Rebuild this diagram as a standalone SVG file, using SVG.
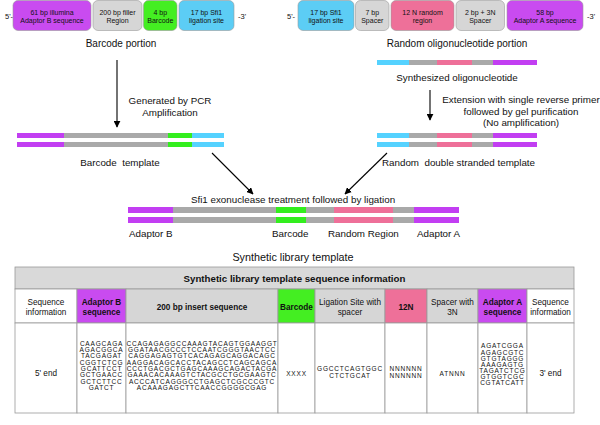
<svg xmlns="http://www.w3.org/2000/svg" width="600" height="425" viewBox="0 0 600 425">
<style>
text{font-family:"Liberation Sans",Arial,sans-serif;fill:#111}
.bx{font-size:7px;text-anchor:middle}
.lb{font-size:9.8px}
.lc{font-size:9.8px;text-anchor:middle}
.tt{font-size:10px;text-anchor:middle}
.th{font-size:8.2px;text-anchor:middle}
.thb{font-size:8.2px;text-anchor:middle;font-weight:bold}
.sq{font-size:6.5px;text-anchor:middle;letter-spacing:0.8px}
.pu{fill:#C94BF0}.gr{fill:#D6D6D6}.gn{fill:#44EE22}.cy{fill:#5CCDF5}.pk{fill:#EE7099}
.box{stroke:#9a9a9a;stroke-width:0.6}
.bpu{fill:#C23EF2}.bgy{fill:#A9A9A9}.bgn{fill:#33EE1E}.bcy{fill:#55D2FF}.bpk{fill:#EE7099}
.conn line{stroke:#000;stroke-width:1.1}
.cell{stroke:#9a9a9a;stroke-width:0.8}
</style>
<defs>
<marker id="ah" viewBox="0 0 10 10" refX="9" refY="5" markerWidth="7" markerHeight="7" markerUnits="userSpaceOnUse" orient="auto">
<path d="M0,0 L10,5 L0,10 z" fill="#000"/>
</marker>
</defs>

<g id="barcode-portion">
<text x="5" y="18.5" font-size="7.5">5'-</text>
<rect class="pu box" x="13" y="0.5" width="78" height="30" rx="5"/>
<text class="bx" x="52" y="14.5">61 bp illumina</text>
<text class="bx" x="52" y="23">Adaptor B sequence</text>
<rect class="gr box" x="93" y="0.5" width="49" height="30" rx="5"/>
<text class="bx" x="117.5" y="14.5">200 bp filler</text>
<text class="bx" x="117.5" y="23">Region</text>
<rect class="gn box" x="143.5" y="0.5" width="33.5" height="30" rx="5"/>
<text class="bx" x="160.3" y="14.5">4 bp</text>
<text class="bx" x="160.3" y="23">Barcode</text>
<rect class="cy box" x="179" y="0.5" width="55" height="30" rx="5"/>
<text class="bx" x="206.5" y="14.5">17 bp Sfi1</text>
<text class="bx" x="206.5" y="23">ligation site</text>
<text x="238" y="18.5" font-size="7.5">-3'</text>
<text class="tt" x="121" y="46.5">Barcode portion</text>
</g>

<g id="random-portion">
<text x="287" y="18.5" font-size="7.5">5'-</text>
<rect class="cy box" x="298" y="0.5" width="56" height="30" rx="5"/>
<text class="bx" x="326" y="14.5">17 bp Sfi1</text>
<text class="bx" x="326" y="23">ligation site</text>
<rect class="gr box" x="355.5" y="0.5" width="33.5" height="30" rx="5"/>
<text class="bx" x="372.3" y="14.5">7 bp</text>
<text class="bx" x="372.3" y="23">Spacer</text>
<rect class="pk box" x="391" y="0.5" width="63" height="30" rx="5"/>
<text class="bx" x="422.5" y="14.5">12 N random</text>
<text class="bx" x="422.5" y="23">region</text>
<rect class="gr box" x="456" y="0.5" width="48.5" height="30" rx="5"/>
<text class="bx" x="480.3" y="14.5">2 bp + 3N</text>
<text class="bx" x="480.3" y="23">Spacer</text>
<rect class="pu box" x="507" y="0.5" width="76" height="30" rx="5"/>
<text class="bx" x="545" y="14.5">58 bp</text>
<text class="bx" x="545" y="23">Adaptor A sequence</text>
<text x="587" y="18.5" font-size="7.5">-3'</text>
<text class="tt" x="457" y="46.5">Random oligonucleotide portion</text>
</g>

<g id="synthesized-oligo">
<rect class="bcy" x="377" y="60" width="32" height="5"/>
<rect class="bgy" x="409" y="60" width="28" height="5"/>
<rect class="bpk" x="437" y="60" width="35" height="5"/>
<rect class="bgy" x="472" y="60" width="21" height="5"/>
<rect class="bpu" x="493" y="60" width="44" height="5"/>
<text class="lc" x="457" y="80.5">Synthesized oligonucleotide</text>
</g>

<g id="barcode-template">
<rect class="bpu" x="17" y="133" width="47" height="5"/>
<rect class="bgy" x="64" y="133" width="104" height="5"/>
<rect class="bgn" x="168" y="133" width="24" height="5"/>
<rect class="bcy" x="192" y="133" width="32" height="5"/>
<rect class="bpu" x="17" y="142" width="47" height="5"/>
<rect class="bgy" x="64" y="142" width="104" height="5"/>
<rect class="bgn" x="168" y="142" width="24" height="5"/>
<rect class="bcy" x="192" y="142" width="32" height="5"/>
<text class="lc" x="120" y="166" xml:space="preserve">Barcode  template</text>
</g>

<g id="random-template">
<rect class="bcy" x="377" y="133" width="32" height="5"/>
<rect class="bgy" x="409" y="133" width="28" height="5"/>
<rect class="bpk" x="437" y="133" width="35" height="5"/>
<rect class="bgy" x="472" y="133" width="21" height="5"/>
<rect class="bpu" x="493" y="133" width="44" height="5"/>
<rect class="bcy" x="377" y="142" width="32" height="5"/>
<rect class="bgy" x="409" y="142" width="28" height="5"/>
<rect class="bpk" x="437" y="142" width="35" height="5"/>
<rect class="bgy" x="472" y="142" width="21" height="5"/>
<rect class="bpu" x="493" y="142" width="44" height="5"/>
<text class="lb" x="382" y="166" xml:space="preserve">Random  double stranded template</text>
</g>

<g id="library-template">
<text class="lc" x="293" y="203">Sfi1 exonuclease treatment followed by ligation</text>
<rect class="bpu" x="128" y="207" width="45" height="6"/>
<rect class="bgy" x="173" y="207" width="103" height="6"/>
<rect class="bgn" x="276" y="207" width="30" height="6"/>
<rect class="bgy" x="306" y="207" width="28" height="6"/>
<rect class="bpk" x="334" y="207" width="59" height="6"/>
<rect class="bgy" x="393" y="207" width="21" height="6"/>
<rect class="bpu" x="414" y="207" width="45" height="6"/>
<rect class="bpu" x="128" y="217" width="45" height="6"/>
<rect class="bgy" x="173" y="217" width="103" height="6"/>
<rect class="bgn" x="276" y="217" width="30" height="6"/>
<rect class="bgy" x="306" y="217" width="28" height="6"/>
<rect class="bpk" x="334" y="217" width="59" height="6"/>
<rect class="bgy" x="393" y="217" width="21" height="6"/>
<rect class="bpu" x="414" y="217" width="45" height="6"/>
<text class="lb" x="129" y="236.5">Adaptor B</text>
<text class="lb" x="272" y="236.5">Barcode</text>
<text class="lb" x="328" y="236.5">Random Region</text>
<text class="lb" x="417" y="236.5">Adaptor A</text>
<text x="293" y="260.5" font-size="10.8" text-anchor="middle">Synthetic library template</text>
</g>

<g id="connectors" class="conn">
<line x1="117" y1="60" x2="117" y2="127" marker-end="url(#ah)"/>
<line x1="430" y1="90" x2="430" y2="120" marker-end="url(#ah)"/>
<line x1="212" y1="153" x2="253" y2="194" marker-end="url(#ah)"/>
<line x1="387" y1="153" x2="345" y2="194" marker-end="url(#ah)"/>
</g>
<g id="connector-labels">
<text class="lc" x="170" y="104">Generated by PCR</text>
<text class="lc" x="170" y="115.5">Amplification</text>
<text class="lc" x="521" y="103">Extension with single reverse primer</text>
<text class="lc" x="521" y="114.5">followed by gel purification</text>
<text class="lc" x="521" y="126">(No amplification)</text>
</g>

<g id="table">
<rect x="15" y="267" width="559" height="22" fill="#D9D9D9" class="cell"/>
<text x="294.5" y="282" font-size="9.7" font-weight="bold" text-anchor="middle">Synthetic library template sequence information</text>
<rect class="cell" x="15" y="289" width="62" height="34" fill="#fff"/>
<rect class="cell pu" x="77" y="289" width="49" height="34"/>
<rect class="cell" x="126" y="289" width="152" height="34" fill="#D6D6D6"/>
<rect class="cell gn" x="278" y="289" width="37" height="34"/>
<rect class="cell" x="315" y="289" width="70" height="34" fill="#D6D6D6"/>
<rect class="cell pk" x="385" y="289" width="42" height="34"/>
<rect class="cell" x="427" y="289" width="51" height="34" fill="#D6D6D6"/>
<rect class="cell pu" x="478" y="289" width="49" height="34"/>
<rect class="cell" x="527" y="289" width="47" height="34" fill="#fff"/>
<rect class="cell" x="15" y="323" width="62" height="90" fill="#fff"/>
<rect class="cell" x="77" y="323" width="49" height="90" fill="#fff"/>
<rect class="cell" x="126" y="323" width="152" height="90" fill="#fff"/>
<rect class="cell" x="278" y="323" width="37" height="90" fill="#fff"/>
<rect class="cell" x="315" y="323" width="70" height="90" fill="#fff"/>
<rect class="cell" x="385" y="323" width="42" height="90" fill="#fff"/>
<rect class="cell" x="427" y="323" width="51" height="90" fill="#fff"/>
<rect class="cell" x="478" y="323" width="49" height="90" fill="#fff"/>
<rect class="cell" x="527" y="323" width="47" height="90" fill="#fff"/>

<text class="th" x="46" y="304.5">Sequence</text>
<text class="th" x="46" y="314.5">information</text>
<text class="thb" x="101.5" y="304.5">Adaptor B</text>
<text class="thb" x="101.5" y="314.5">sequence</text>
<text class="thb" x="202" y="309.5">200 bp insert sequence</text>
<text class="thb" x="296.5" y="309.5">Barcode</text>
<text class="th" x="350" y="304.5" font-size="7.5">Ligation Site with</text>
<text class="th" x="350" y="314.5" font-size="7.5">spacer</text>
<text class="thb" x="406" y="309.5">12N</text>
<text class="th" x="452.5" y="304.5">Spacer with</text>
<text class="th" x="452.5" y="314.5">3N</text>
<text class="thb" x="502.5" y="304.5">Adaptor A</text>
<text class="thb" x="502.5" y="314.5">sequence</text>
<text class="th" x="550.5" y="304.5">Sequence</text>
<text class="th" x="550.5" y="314.5">information</text>

<text class="th" x="46" y="375.5">5' end</text>
<text class="sq" x="101.5" y="345.8">CAAGCAGA</text>
<text class="sq" x="101.5" y="352.1">AGACGGCA</text>
<text class="sq" x="101.5" y="358.4">TACGAGAT</text>
<text class="sq" x="101.5" y="364.7">CGGTCTCG</text>
<text class="sq" x="101.5" y="371">GCATTCCT</text>
<text class="sq" x="101.5" y="377.3">GCTGAACC</text>
<text class="sq" x="101.5" y="383.6">GCTCTTCC</text>
<text class="sq" x="101.5" y="389.9">GATCT</text>
<text class="sq" x="202" y="345.8">CCAGAGAGGCCAAAGTACAGTGGAAGGT</text>
<text class="sq" x="202" y="352.1">GGATAACGCCCTCCAATCGGGTAACTCC</text>
<text class="sq" x="202" y="358.4">CAGGAGAGTGTCACAGAGCAGGACAGC</text>
<text class="sq" x="202" y="364.7">AAGGACAGCACCTACAGCCTCAGCAGCA</text>
<text class="sq" x="202" y="371">CCCTGACGCTGAGCAAAGCAGACTACGA</text>
<text class="sq" x="202" y="377.3">GAAACACAAAGTCTACGCCTGCGAAGTC</text>
<text class="sq" x="202" y="383.6">ACCCATCAGGGCCTGAGCTCGCCCGTC</text>
<text class="sq" x="202" y="389.9">ACAAAGAGCTTCAACCGGGGCGAG</text>
<text class="sq" x="296.5" y="375.5">XXXX</text>
<text class="sq" x="350" y="371.3">GGCCTCAGTGGC</text>
<text class="sq" x="350" y="377.5">CTCTGCAT</text>
<text class="sq" x="406" y="371.3">NNNNNN</text>
<text class="sq" x="406" y="377.5">NNNNNN</text>
<text class="sq" x="452.5" y="375.5">ATNNN</text>
<text class="sq" x="502.5" y="348.3">AGATCGGA</text>
<text class="sq" x="502.5" y="354.5">AGAGCGTC</text>
<text class="sq" x="502.5" y="360.6">GTGTAGGG</text>
<text class="sq" x="502.5" y="366.8">AAAGAGTG</text>
<text class="sq" x="502.5" y="372.9">TAGATCTCG</text>
<text class="sq" x="502.5" y="379.1">GTGGTCGC</text>
<text class="sq" x="502.5" y="385.2">CGTATCATT</text>
<text class="th" x="550.5" y="375.5">3' end</text>
</g>
</svg>
